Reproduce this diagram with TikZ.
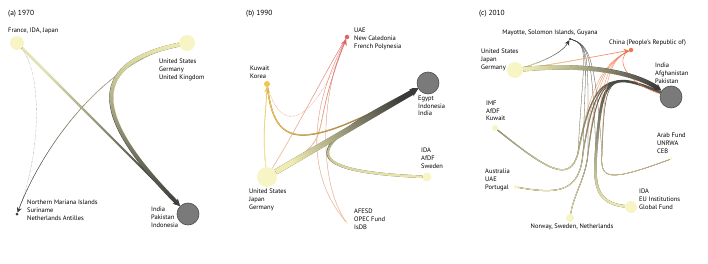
\documentclass[tikz,border=0pt]{standalone}
\usepackage{fontspec}
\setmainfont{PT Sans}
\usetikzlibrary{arrows.meta,fadings}

\definecolor{paleyellow}{RGB}{247,245,198}
\definecolor{flowyellow}{RGB}{238,236,176}
\definecolor{flowink}{RGB}{58,58,58}
\definecolor{brownink}{RGB}{120,95,70}
\definecolor{recipfill}{RGB}{122,122,122}
\definecolor{recipline}{RGB}{78,78,78}
\definecolor{uaered}{RGB}{222,100,100}
\definecolor{kwtorange}{RGB}{242,196,82}
\definecolor{chnred}{RGB}{240,118,80}

\tikzfading[name=flowfade,left color=transparent!0,right color=transparent!100]

% ink stroke first, then the source colour fading out along the flow
\newcommand{\flow}[6][]{%
  \draw[#3,line width=#4,#1] #6;
  \draw[#2,line width=#4,path fading=flowfade,fading angle=#5] #6;}

\begin{document}
\begin{tikzpicture}[x=1pt,y=1pt,
  every node/.style={font=\fontsize{6.5}{7.6}\selectfont,inner sep=0pt},
  donor/.style={circle,fill=paleyellow,minimum size=#1},
  recipient/.style={circle,fill=recipfill,draw=recipline,line width=.6pt,minimum size=#1},
  smalldot/.style={circle,fill=#1,minimum size=3pt},
  cntry/.style={align=left,anchor=north west},
  panel/.style={font=\fontsize{7.4}{9}\selectfont,anchor=west},
  flowtip/.style={-{Stealth[length=#1,width=#1]}}]
\useasboundingbox (0,0) rectangle (708,263);

% (a) 1970
\node[panel] (ta) at (8,249) {(a) 1970};
\node[donor=14pt] (fij) at (17,220) {};
\node[anchor=west] (fijl) at (8,232) {France, IDA, Japan};
\node[donor=16pt] (usgu) at (187,220) {};
\node[cntry] (usgul) at (159,204) {United States\\Germany\\United Kingdom};
\node[smalldot=flowink] (nmi) at (17,49) {};
\node[cntry] (nmil) at (27,63) {Northern Mariana Islands\\Suriname\\Netherlands Antilles};
\node[recipient=22pt] (ipi) at (188,49) {};
\node[cntry] (ipil) at (151,56) {India\\Pakistan\\Indonesia};

\flow{flowyellow,densely dotted}{flowink,densely dotted}{.3pt}{-90}{(fij) .. controls (42,190) and (42,110) .. (nmi)}
\flow[flowtip=5pt]{flowyellow}{flowink}{.5pt}{-120}{(usgu) .. controls (100,200) and (40,110) .. (nmi)}
\flow[flowtip=6pt]{flowyellow}{flowink}{2pt}{-45}{(fij) -- (ipi)}
\flow[flowtip=7pt]{flowyellow}{flowink}{4pt}{-90}{(usgu) .. controls (90,200) and (88,150) .. (ipi)}

% (b) 1990
\node[panel] (tb) at (246,249) {(b) 1990};
\node[smalldot=uaered,minimum size=4.5pt] (uae) at (347,226) {};
\node[cntry] (uael) at (354,235) {UAE\\New Caledonia\\French Polynesia};
\node[smalldot=kwtorange,minimum size=6pt] (kwt) at (267,179) {};
\node[cntry] (kwtl) at (250,197) {Kuwait\\Korea};
\node[recipient=22pt] (egy) at (428,180) {};
\node[cntry] (egyl) at (418,167) {Egypt\\Indonesia\\India};
\node[donor=20pt] (usjg) at (267,86) {};
\node[cntry] (usjgl) at (249,74) {United States\\Japan\\Germany};
\node[donor=9pt] (ida) at (427,86) {};
\node[cntry] (idal) at (421,115) {IDA\\AfDF\\Sweden};
\node[smalldot=paleyellow,minimum size=2.5pt] (afesd) at (347,40) {};
\node[cntry] (afesdl) at (354,54) {AFESD\\OPEC Fund\\IsDB};

\flow{flowyellow}{uaered}{.3pt}{90}{(afesd) .. controls (300,95) and (315,165) .. (uae)}
\flow{flowyellow}{uaered}{.3pt}{90}{(afesd) .. controls (318,80) and (320,170) .. (uae)}
\flow{flowyellow}{uaered}{.4pt}{60}{(usjg) .. controls (300,140) and (330,200) .. (uae)}
\flow{kwtorange,densely dotted}{uaered,densely dotted}{.4pt}{30}{(kwt) .. controls (282,125) and (315,140) .. (uae)}
\flow[flowtip=6pt]{flowyellow}{uaered}{.6pt}{90}{(usjg) .. controls (340,130) and (305,120) .. (uae)}
\flow[flowtip=5pt]{flowyellow}{kwtorange}{.8pt}{90}{(usjg) .. controls (262,130) and (266,150) .. (kwt)}
\flow[flowtip=5pt]{kwtorange}{brownink}{1.2pt}{0}{(kwt) .. controls (275,115) and (300,110) .. (egy)}
\flow[flowtip=6pt]{flowyellow}{flowink}{2.5pt}{90}{(ida) .. controls (295,92) and (300,115) .. (egy)}
\flow[flowtip=8pt]{flowyellow}{flowink}{5.5pt}{30}{(usjg) -- (egy)}

% (c) 2010
\node[panel] (tc) at (479,249) {(c) 2010};
\node[smalldot=flowink,minimum size=2.5pt] (may) at (570,224) {};
\node (mayl) at (550,230) {Mayotte, Solomon Islands, Guyana};
\node[smalldot=chnred,minimum size=4.5pt] (chn) at (631,213) {};
\node[anchor=west] (chnl) at (609,220) {China (People's Republic of)};
\node[donor=16pt] (usjgc) at (515,193) {};
\node[cntry] (usjgcl) at (481,214) {United States\\Japan\\Germany};
\node[recipient=22pt] (ind) at (671,166) {};
\node[cntry] (indl) at (655,200) {India\\Afghanistan\\Pakistan};
\node[donor=6pt] (imf) at (495,135) {};
\node[cntry] (imfl) at (486,162) {IMF\\AfDF\\Kuwait};
\node[donor=3pt] (arab) at (671,104) {};
\node[cntry] (arabl) at (657,130) {Arab Fund\\UNRWA\\CEB};
\node[donor=4pt] (aus) at (516,76) {};
\node[cntry] (ausl) at (485,94) {Australia\\UAE\\Portugal};
\node[donor=12pt] (idac) at (631,56) {};
\node[cntry] (idacl) at (639,74) {IDA\\EU Institutions\\Global Fund};
\node[donor=8pt] (nor) at (570,45) {};
\node (norl) at (572,36) {Norway, Sweden, Netherlands};

% bundled flows from the lower donors
\foreach \s/\ca/\cb/\bx/\w in {imf/{545,95}/{570,78}/578/1.2pt,
    aus/{560,68}/{580,72}/583/1pt, nor/{574,70}/{586,85}/588/.9pt,
    idac/{595,60}/{594,80}/596/2.5pt, arab/{606,80}/{600,84}/602/.5pt}{
  \flow{flowyellow}{flowink}{.3pt}{90}{(\s) .. controls (\ca) and (\cb) .. (\bx,110) .. controls (\bx/2+294,205) and (590,218) .. (may)}
  \flow{flowyellow}{chnred}{.3pt}{90}{(\s) .. controls (\ca) and (\cb) .. (\bx,110) .. controls (\bx/2+302,190) and (612,204) .. (chn)}
  \flow{flowyellow}{flowink}{\w}{90}{(\s) .. controls (\ca) and (\cb) .. (\bx,110) .. controls (\bx/2+304,185) and (606,194) .. (ind)}
}
\draw[chnred,line width=.5pt] (chn) .. controls (615,205) and (625,180) .. (ind);
\flow[flowtip=5pt]{flowyellow}{flowink}{.5pt}{45}{(usjgc) .. controls (555,205) and (565,215) .. (may)}
\flow[flowtip=5pt]{flowyellow}{chnred}{.6pt}{10}{(usjgc) .. controls (560,200) .. (chn)}
\flow[flowtip=7pt]{flowyellow}{flowink}{4.5pt}{-10}{(usjgc) .. controls (590,200) and (635,190) .. (ind)}
\end{tikzpicture}
\end{document}
